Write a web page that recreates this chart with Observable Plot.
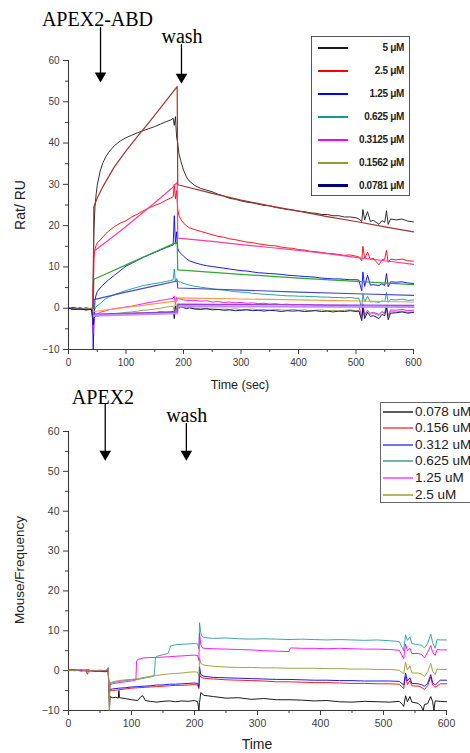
<!DOCTYPE html>
<html>
<head>
<meta charset="utf-8">
<script src="https://cdn.jsdelivr.net/npm/d3@7"></script>
<script src="https://cdn.jsdelivr.net/npm/@observablehq/plot@0.6"></script>
<style>
  body { margin: 0; background: #fff; }
  #root { position: relative; width: 470px; height: 753px; overflow: hidden; background: #fff;
          font-family: "Liberation Sans", Arial, sans-serif; }
  #root svg { position: absolute; left: 0; }
  .lab { position: absolute; white-space: nowrap; color: #222; transform: translate(-50%, -50%); }
  .rot { transform: translate(-50%, -50%) rotate(-90deg); }
  .legend { position: absolute; box-sizing: border-box; background: #fff; }
  .sw { position: absolute; }
</style>
</head>
<body>
<div id="root"></div>
<script>
// ---------------- Top panel: APEX2-ABD (measured sensorgrams) ----------------
const tTop = [0,10,20,30,40, 42,43,44,46,48,50, 55,60,65,70,
  80,90,100,110,120,130,140,150,160,170, 178,182,184,186,188,190,192,195, 200,205,210,
  220,230,240,250,260,270,280,290,300,310,320,330,340,350,360,370,380,390,400,410,420,430,440,450,460,470,480,490,500,
  505,510,512,515,520,525,530, 540,545,550,553,556,560, 570,580,590,600];

const m5 = [0,0.2,-0.3,0.1,-0.2, -0.6,8,18,24.5,27.5,29.8, 33.2,35.3,36.7,37.8,
  39.4,40.5,41.3,41.9,42.5,43.0,43.5,44.0,44.6,45.2, 45.6,46.0,44.3,46.4,41.5,40.0,37.5,35.8, 33.5,31.8,30.8,
  29.7,29.0,28.6,28.2,27.6,27.2,26.6,26.4,26.0,25.7,25.5,25.2,24.9,24.8,24.4,24.2,23.9,23.8,23.5,23.4,23.1,23.0,22.7,22.7,22.4,22.4,22.1,22.1,21.9,
  21.6,21.0,23.9,21.4,23.4,21.0,21.3, 20.3,21.2,20.8,23.6,20.3,21.6, 21.4,21.6,21.1,20.9];
const m25 = [0,-0.2,0.1,-0.2,0, -1,4,12,14.3,15.2,15.8, 16.5,17.3,18.1,18.7,
  19.8,20.6,21.2,22.1,22.8,23.6,24.3,24.9,25.4,26.2, 26.7,27.0,30.0,26.5,28.5,24.0,22.4,21.6, 20.6,20.0,19.5,
  19.0,18.6,18.2,17.8,17.4,17.2,16.8,16.6,16.3,16.0,15.9,15.6,15.4,15.2,15.1,14.8,14.6,14.5,14.2,14.1,13.8,13.7,13.5,13.3,13.2,13.0,12.8,12.9,12.6,
  12.4,11.5,15.0,12.0,13.6,11.8,12.1, 10.5,11.7,11.9,14.0,11.1,11.9, 11.7,11.9,11.5,11.4];
const m125 = [0,-0.3,0,-0.4,-0.2, -3,-10,-5,2.0,3.2,4.0, 4.9,5.6,6.3,6.9,
  8.0,9.1,10.2,10.9,11.6,12.3,12.9,13.5,14.1,14.7, 15.1,15.3,22.4,15.5,18.5,14.5,13.8,13.3, 12.6,12.0,11.5,
  11.0,10.6,10.3,10.1,9.9,9.7,9.5,9.3,9.1,9.0,8.8,8.6,8.5,8.4,8.3,8.2,8.0,7.9,7.8,7.7,7.6,7.5,7.3,7.2,7.1,7.1,7.0,6.9,6.9,
  6.8,4.2,8.8,5.3,8.0,5.6,5.7, 5.5,5.9,5.5,8.4,5.2,6.4, 6.3,6.4,6.1,6.0];
const m0625 = [0,-0.2,0.1,-0.3,0, -1,-2.5,1,-0.2,0.3,0.6, 1.1,1.8,2.3,2.7,
  3.3,3.8,4.3,4.7,5.1,5.5,5.7,6.0,6.2,6.5, 6.7,6.9,9.5,6.4,7.2,6.6,6.3,6.4, 6.0,5.8,5.6,
  5.3,5.1,4.9,4.7,4.5,4.4,4.2,4.0,3.9,3.8,3.6,3.5,3.4,3.3,3.2,3.1,3.0,3.0,2.9,2.9,2.8,2.8,2.7,2.7,2.6,2.6,2.5,2.6,2.4,
  2.4,0.0,3.4,1.5,2.9,1.5,1.6, 1.4,1.8,1.6,3.8,1.4,2.1, 2.0,2.2,1.9,2.0];
const m03125 = [0,-0.2,-0.1,-0.3,-0.2, -2,-6,-2,-1.6,-1.5,-1.4, -1.0,-0.8,-0.6,-0.4,
  -0.1,0.1,0.3,0.5,0.8,1.1,1.4,1.6,1.9,2.1, 2.3,2.4,3.0,1.0,2.6,2.4,2.3,2.2, 2.0,1.9,1.9,
  1.9,1.7,1.8,1.5,1.6,1.4,1.5,1.3,1.4,1.2,1.3,1.1,1.2,1.0,1.1,0.9,1.0,0.8,0.9,0.8,0.9,0.7,0.8,0.6,0.7,0.6,0.7,0.5,0.6,
  0.5,-2.0,1.0,-1.5,-0.5,-1.2,-1.0, -1.5,-0.8,-1.2,0.8,-1.8,-0.4, -0.5,-0.3,-0.6,-0.5];
const m01562 = [0,-0.1,-0.2,0,-0.1, -1,-3,-2,-1.9,-1.8,-1.8, -1.7,-1.6,-1.5,-1.4,
  -1.3,-1.2,-1.0,-0.9,-0.7,-0.5,-0.4,-0.2,0,0.3, 0.4,0.5,-1.0,1.5,0.3,0.2,0.1,0.3, 0.1,0,0.2,
  -0.1,0,-0.2,-0.1,-0.3,-0.2,-0.3,-0.1,-0.4,-0.3,-0.2,-0.4,-0.3,-0.5,-0.3,-0.4,-0.5,-0.3,-0.5,-0.4,-0.6,-0.5,-0.4,-0.6,-0.5,-0.7,-0.5,-0.4,-0.6,
  -0.5,-2.5,0.5,-2.0,-0.5,-1.5,-1.2, -1.8,-1.0,-1.3,0.5,-2.0,-0.8, -0.9,-0.7,-1.0,-0.9];
const m00781 = [0,-0.3,-0.2,-0.4,-0.3, -2,-4,-2.5,-2.0,-1.8,-1.9, -1.7,-1.8,-1.6,-1.7,
  -1.5,-1.6,-1.4,-1.4,-1.2,-1.3,-1.1,-1.1,-0.9,-1.0, -0.9,-0.8,-2.5,0.5,-0.5,0.3,0.0,0.4, 0.2,-0.1,0.1,
  -0.2,-0.3,-0.1,-0.4,-0.3,-0.5,-0.4,-0.6,-0.5,-0.4,-0.6,-0.5,-0.7,-0.5,-0.6,-0.8,-0.6,-0.7,-0.6,-0.8,-0.7,-0.6,-0.8,-0.7,-0.9,-0.7,-0.8,-0.6,-0.8,
  -0.7,-3.0,0.2,-2.5,-1.0,-2.0,-1.8, -2.5,-1.5,-1.8,0.2,-2.8,-1.2, -1.1,-0.9,-1.2,-1.0];

const topLabels = ["5 μM", "2.5 μM", "1.25 μM", "0.625 μM", "0.3125 μM", "0.1562 μM", "0.0781 μM"];
const topColors = ["#1a1a1a", "#ff0000", "#0000ff", "#109a96", "#ff00ff", "#999933", "#00007f"];
const topSeries = [m5, m25, m125, m0625, m03125, m01562, m00781];

// fitted curves (time, response)
const fit5 = [[43,0],[44,24.5],[50,26.7],[60,29.5],[80,34.3],[100,38.1],[120,41.6],[140,45.0],[160,48.5],[180,52.1],[189,53.7],
  [190,29.9],[250,27.8],[300,26.2],[350,24.8],[400,23.5],[450,22.2],[500,21.0],[550,19.7],[600,18.5]];
const fit25 = [[43,0],[44,13.8],[60,15.5],[80,17.6],[100,19.8],[120,22.1],[140,24.4],[160,26.7],[180,29.1],[189,30.5],
  [190,17.0],[250,16.2],[300,15.4],[350,14.7],[400,14.0],[450,13.2],[500,12.3],[550,11.5],[600,10.6]];
const fit125 = [[43,0],[44,7.0],[60,8.0],[100,10.5],[140,13.0],[189,16.0],[190,9.3],[300,8.2],[400,7.3],[500,6.5],[600,5.7]];
const fit0625 = [[43,0],[44,2.1],[100,3.9],[150,5.4],[189,6.6],[190,4.9],[300,4.4],[400,3.9],[500,3.5],[600,3.1]];
const fit03125 = [[43,0],[44,-0.8],[189,1.8],[190,2.5],[400,2.0],[600,1.5]];
const fit01562 = [[44,-1.4],[189,-0.9],[190,1.0],[600,0.7]];
const fit00781 = [[44,-1.8],[189,-1.2],[190,0.5],[600,0.3]];
const fitSeries = [fit00781, fit01562, fit03125, fit0625, fit125, fit25, fit5];
const fitColors = ["#c38cff", "#9a3fd0", "#ff9a3c", "#4b4bc8", "#2caa2c", "#ff3d9e", "#a8322c"];
const fitWidths = [2.2, 1.2, 1.2, 1.2, 1.2, 1.2, 1.2];

// ---------------- Bottom panel: APEX2 ----------------
const b0078 = [[0,0.2],[10,0],[20,0.1],[30,-0.1],[40,0],[50,-0.2],[60,-0.1],[63,0.3],[64,-5],[65,-10],[66,-6.5],[70,-6.8],[75,-6.7],[79,-6.9],[80,-5.0],[81,-6.8],
  [90,-7.0],[100,-7.3],[110,-7.5],[115,-6.5],[118,-6.3],[122,-7.5],[130,-7.7],[140,-7.9],[150,-7.7],[160,-7.6],[170,-7.8],[180,-7.6],[190,-7.7],[200,-7.5],[205,-7.8],
  [207,-10],[208,-8],[210,-5.5],[215,-6.2],[230,-6.5],[250,-6.9],[270,-6.8],[290,-7.2],[310,-7.0],[330,-7.3],[350,-7.3],[370,-7.4],[390,-7.6],[410,-7.5],
  [430,-7.8],[450,-7.9],[470,-7.7],[490,-7.8],[510,-7.9],[525,-7.7],[530,-8.5],[532,-9.0],[535,-6.3],[538,-7.8],[542,-6.5],[545,-7.9],[555,-8.2],[560,-9.0],
  [563,-10],[565,-8.5],[570,-8.3],[575,-6.5],[578,-7.8],[580,-10],[582,-7.6],[590,-7.7],[600,-7.8]];
const b0156 = [[0,0.1],[10,0.2],[20,-0.1],[28,0],[30,-0.9],[32,0],[40,-0.1],[50,-0.2],[60,-0.3],[63,0.2],[64,-3],[65,-5.5],[66,-5.0],[70,-5.0],[80,-4.8],
  [90,-4.6],[100,-4.4],[110,-4.3],[120,-4.2],[130,-4.1],[140,-4.0],[150,-3.9],[160,-3.8],[170,-3.7],[180,-3.7],[190,-3.6],[200,-3.5],[205,-3.6],[207,-4.5],
  [208,-1.0],[210,-1.6],[215,-1.9],[230,-2.1],[250,-2.3],[270,-2.4],[290,-2.5],[310,-2.6],[330,-2.8],[350,-2.8],[370,-2.9],[390,-3.0],[410,-3.0],[430,-3.1],
  [450,-3.2],[470,-3.2],[490,-3.3],[510,-3.3],[525,-3.4],[532,-4.5],[535,-1.5],[538,-3.5],[542,-2.5],[545,-3.8],[555,-3.9],[560,-4.2],[565,-4.7],[570,-3.8],
  [575,-1.6],[578,-3.6],[582,-4.2],[590,-3.3],[600,-3.3]];
const b0312 = [[0,0.2],[10,0.1],[20,0],[30,0.2],[40,-0.1],[50,0],[60,-0.2],[63,0],[64,-3],[65,-5],[66,-4.7],[70,-4.6],[80,-4.4],[90,-4.3],[100,-4.1],
  [110,-4.0],[120,-3.9],[130,-3.8],[140,-3.6],[150,-3.6],[160,-3.4],[170,-3.4],[180,-3.3],[190,-3.2],[200,-3.1],[205,-3.2],[207,-4.0],[208,1.0],[210,-1.0],
  [215,-1.4],[230,-1.7],[250,-1.8],[270,-1.9],[290,-2.0],[310,-2.1],[330,-2.2],[350,-2.2],[370,-2.3],[390,-2.4],[410,-2.4],[430,-2.5],[450,-2.5],[470,-2.6],
  [490,-2.6],[510,-2.6],[525,-2.7],[532,-3.6],[535,-0.6],[538,-2.6],[542,-1.8],[545,-3.2],[555,-3.3],[560,-3.5],[565,-3.9],[570,-3.2],[575,-1.0],[578,-3.0],
  [582,-3.6],[590,-2.4],[600,-2.4]];
const b0625 = [[0,0.2],[10,0.1],[20,0.3],[30,0],[40,0.1],[50,-0.1],[60,0.1],[63,0.8],[64,-4],[65,-5.5],[66,-3.3],[70,-3.0],[80,-2.7],[90,-2.5],[100,-2.3],
  [110,-2.2],[120,-1.9],[130,-1.6],[136,-1.3],[138,3.2],[140,3.6],[150,4.0],[158,4.3],[160,5.2],[162,6.2],[170,6.5],[180,6.6],[190,6.7],[200,6.8],[205,6.7],
  [207,5.5],[208,12.0],[210,9.5],[212,8.6],[215,8.3],[230,8.1],[250,8.2],[270,8.0],[290,7.9],[310,8.0],[330,7.9],[350,7.8],[370,7.9],[390,7.8],[410,7.7],
  [430,7.8],[450,7.7],[470,7.6],[490,7.7],[510,7.5],[525,7.3],[532,5.0],[535,9.0],[538,7.6],[542,8.5],[545,6.8],[555,6.5],[560,6.4],[565,5.7],[570,6.8],
  [575,9.2],[578,7.0],[582,5.6],[585,7.8],[590,7.7],[600,7.7]];
const b125 = [[0,0.1],[10,0.2],[20,0],[30,0.1],[40,-0.1],[50,0.1],[60,0],[63,0.5],[64,-4],[65,-4.5],[66,-3.6],[70,-3.3],[80,-3.0],[90,-2.8],[100,-2.6],
  [105,-2.5],[107,-2.3],[108,2.3],[110,2.8],[120,3.2],[130,3.3],[140,3.3],[150,3.4],[160,3.5],[170,3.6],[180,3.7],[190,3.8],[200,3.9],[205,3.8],[207,2.5],
  [208,9.5],[210,6.5],[212,5.8],[215,5.6],[230,5.5],[250,5.4],[270,5.3],[290,5.2],[310,5.0],[330,4.9],[345,4.8],[350,4.8],[352,5.6],[354,5.7],[370,5.6],
  [390,5.6],[410,5.5],[430,5.6],[450,5.5],[470,5.4],[490,5.4],[510,5.3],[525,5.1],[532,3.0],[535,6.7],[538,5.0],[542,5.6],[545,4.3],[555,4.3],[560,4.1],
  [565,3.2],[570,4.6],[575,6.3],[578,4.6],[582,3.8],[585,5.3],[590,5.2],[600,5.2]];
const b25 = [[0,0.1],[10,0],[20,0.2],[30,-0.1],[40,0],[50,0.1],[60,-0.1],[63,0.4],[64,-3],[65,-10],[66,-3.0],[70,-2.8],[80,-2.5],[90,-2.3],[100,-2.2],
  [110,-2.0],[120,-1.7],[130,-1.4],[140,-1.2],[150,-1.0],[160,-0.8],[170,-0.7],[180,-0.6],[190,-0.4],[200,-0.3],[205,-0.4],[207,-1.5],[208,3.2],[210,1.8],
  [215,1.4],[230,1.1],[250,0.9],[270,0.8],[290,0.8],[310,0.7],[330,0.7],[350,0.6],[370,0.6],[390,0.6],[410,0.5],[430,0.5],[450,0.4],[470,0.4],[490,0.3],
  [510,0.3],[525,0.1],[532,-0.8],[535,2.1],[538,0.2],[542,1.2],[545,-0.6],[555,-0.6],[560,-0.8],[565,-1.5],[570,-0.3],[575,1.8],[578,-0.2],[582,-1.0],
  [585,0.4],[590,0.3],[600,0.3]];

const botLabels = ["0.078 uM", "0.156 uM", "0.312 uM", "0.625 uM", "1.25 uM", "2.5 uM"];
const botColors = ["#000000", "#ff0000", "#0000ff", "#2e9a9a", "#ff00ff", "#999933"];
const botLegendColors = ["#5a5a5a", "#ff7070", "#7070ff", "#70b5b5", "#ff70ff", "#b5b56a"];
const botSeries = [b0078, b0156, b0312, b0625, b125, b25];

// axes
const xTicks = [0, 100, 200, 300, 400, 500, 600];
const xMinor = [50, 150, 250, 350, 450, 550];
const yTicks = [-10, 0, 10, 20, 30, 40, 50, 60];
const yMinor = [-5, 5, 15, 25, 35, 45, 55];
const xDomain = [0, 600];
const yDomain = [-10, 60];

// annotations (injection / wash times and label anchors in data units)
const topEvents = [
  {label: "APEX2-ABD", tx: 50.4, ty: 70.0, t: 55.7, from: 66.5, to: 54.7},
  {label: "wash", tx: 197.4, ty: 65.7, t: 196.5, from: 62.4, to: 54.4}
];
const botEvents = [
  {label: "APEX2", tx: 54.7, ty: 68.5, t: 58.3, from: 65.3, to: 52.7},
  {label: "wash", tx: 187.6, ty: 64.1, t: 187.1, from: 60.5, to: 52.7}
];

const axisColor = "#3c3c3c";

function axes(fs) {
  return [
    Plot.ruleY([yDomain[0]], {stroke: axisColor, strokeWidth: 1.1}),
    Plot.ruleX([xDomain[0]], {stroke: axisColor, strokeWidth: 1.1}),
    Plot.axisX({ticks: xTicks, tickSize: 5, tickPadding: 4, label: null, fontSize: fs, stroke: axisColor, fill: axisColor}),
    Plot.axisX({ticks: xMinor, tickSize: 3, tickFormat: () => "", label: null, stroke: axisColor}),
    Plot.axisY({ticks: yTicks, tickSize: 5, tickPadding: 4, label: null, fontSize: fs, stroke: axisColor, fill: axisColor}),
    Plot.axisY({ticks: yMinor, tickSize: 3, tickFormat: () => "", label: null, stroke: axisColor})
  ];
}

function eventMarks(events) {
  return [
    Plot.ruleX(events, {x: "t", y1: "from", y2: "to", stroke: "#000", strokeWidth: 1.3, dy: -6}),
    Plot.dot(events, {x: "t", y: "to", symbol: "triangle", rotate: 180, r: 4.3, fill: "#000", stroke: "none", dy: -6.5}),
    Plot.text(events, {x: "tx", y: "ty", text: "label", fontFamily: "'Liberation Serif', 'Times New Roman', serif",
      fontSize: 20, fill: "#000"})
  ];
}

const root = document.getElementById("root");

// ----- top chart -----
const topMarks = [...axes(10)];
topSeries.forEach((vals, k) => {
  topMarks.push(Plot.line(tTop.map((t, i) => ({t, v: vals[i]})), {x: "t", y: "v", stroke: topColors[k], strokeWidth: 0.9}));
});
fitSeries.forEach((pts, k) => {
  topMarks.push(Plot.line(pts, {x: d => d[0], y: d => d[1], stroke: fitColors[k], strokeWidth: fitWidths[k]}));
});
topMarks.push(...eventMarks(topEvents));

const topPlot = Plot.plot({
  width: 470, height: 395,
  marginLeft: 68, marginRight: 57, marginTop: 60, marginBottom: 46,
  x: {domain: xDomain, label: null},
  y: {domain: yDomain, label: null},
  style: {fontFamily: "'Liberation Sans', Arial, sans-serif", fontSize: "10px", color: axisColor, background: "transparent", overflow: "visible"},
  marks: topMarks
});
topPlot.style.top = "0px";
root.appendChild(topPlot);

// ----- bottom chart -----
const botMarks = [...axes(10.5)];
botSeries.forEach((pts, k) => {
  botMarks.push(Plot.line(pts, {x: d => d[0], y: d => d[1], stroke: botColors[k], strokeWidth: 0.9}));
});
botMarks.push(...eventMarks(botEvents));

const botPlot = Plot.plot({
  width: 470, height: 373,
  marginLeft: 68, marginRight: 24, marginTop: 51, marginBottom: 43,
  x: {domain: xDomain, label: null},
  y: {domain: yDomain, label: null},
  style: {fontFamily: "'Liberation Sans', Arial, sans-serif", fontSize: "10.5px", color: axisColor, background: "transparent", overflow: "visible"},
  marks: botMarks
});
botPlot.style.top = "380px";
root.appendChild(botPlot);

// ----- axis titles -----
function label(text, x, y, size, rotate) {
  const d = document.createElement("div");
  d.className = "lab" + (rotate ? " rot" : "");
  d.textContent = text;
  d.style.left = x + "px";
  d.style.top = y + "px";
  d.style.fontSize = size + "px";
  root.appendChild(d);
}
label("Rat/ RU", 20, 205, 14, true);
label("Time (sec)", 240, 385, 12.5, false);
label("Mouse/Frequency", 19, 570, 13.5, true);
label("Time", 257, 744, 14, false);

// ----- top legend -----
const lgTop = document.createElement("div");
lgTop.className = "legend";
Object.assign(lgTop.style, {left: "311px", top: "36px", width: "99px", height: "160px", border: "1px solid #555"});
topLabels.forEach((lab, i) => {
  const cy = 10.5 + i * 23.05;
  const sw = document.createElement("div");
  sw.className = "sw";
  const h = i === topLabels.length - 1 ? 3 : 2;
  Object.assign(sw.style, {left: "6px", width: "30px", top: Math.round(cy - h / 2) + "px", height: h + "px", background: topColors[i]});
  lgTop.appendChild(sw);
  const tx = document.createElement("div");
  tx.className = "sw";
  tx.textContent = lab;
  Object.assign(tx.style, {right: "5px", top: (cy - 7) + "px", height: "14px", lineHeight: "14px", fontSize: "10px",
    fontWeight: "bold", color: "#222", letterSpacing: "-0.3px"});
  lgTop.appendChild(tx);
});
root.appendChild(lgTop);

// ----- bottom legend -----
const lgBot = document.createElement("div");
lgBot.className = "legend";
Object.assign(lgBot.style, {left: "380px", top: "402px", width: "110px", height: "101px", border: "1px solid #666"});
botLabels.forEach((lab, i) => {
  const cy = 8.5 + i * 16.6;
  const sw = document.createElement("div");
  sw.className = "sw";
  Object.assign(sw.style, {left: "2px", width: "30px", top: Math.round(cy - 1) + "px", height: "2px", background: botLegendColors[i]});
  lgBot.appendChild(sw);
  const tx = document.createElement("div");
  tx.className = "sw";
  tx.textContent = lab;
  Object.assign(tx.style, {left: "34px", top: (cy - 8) + "px", height: "16px", lineHeight: "16px", fontSize: "13.5px", color: "#222"});
  lgBot.appendChild(tx);
});
root.appendChild(lgBot);
</script>
</body>
</html>
